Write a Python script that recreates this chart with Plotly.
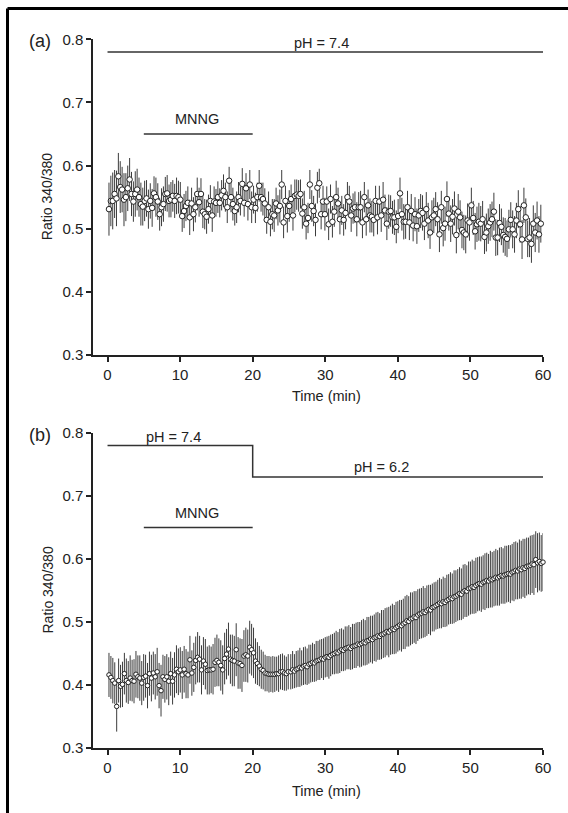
import numpy as np
import plotly.graph_objects as go

# ---- panel (a): pH 7.4 throughout, MNNG 5-20 min ----
a_ratio = [
    0.531, 0.544, 0.544, 0.555, 0.548, 0.583, 0.566, 0.562, 0.546, 0.550,
    0.564, 0.578, 0.555, 0.543, 0.555, 0.562, 0.550, 0.539, 0.535, 0.544,
    0.548, 0.531, 0.544, 0.533, 0.556, 0.550, 0.543, 0.523, 0.534, 0.539,
    0.555, 0.556, 0.544, 0.546, 0.552, 0.544, 0.552, 0.550, 0.546, 0.520,
    0.528, 0.536, 0.541, 0.518, 0.540, 0.523, 0.534, 0.555, 0.542, 0.555,
    0.527, 0.523, 0.519, 0.531, 0.544, 0.521, 0.543, 0.541, 0.550, 0.541,
    0.553, 0.560, 0.550, 0.534, 0.576, 0.550, 0.539, 0.528, 0.534, 0.550,
    0.544, 0.571, 0.541, 0.564, 0.539, 0.570, 0.534, 0.546, 0.533, 0.550,
    0.568, 0.550, 0.547, 0.540, 0.514, 0.534, 0.511, 0.523, 0.521,
    0.540, 0.529, 0.536, 0.570, 0.510, 0.544, 0.520, 0.536, 0.547, 0.521,
    0.552, 0.554, 0.552, 0.555, 0.524, 0.534, 0.508, 0.517, 0.570, 0.536,
    0.528, 0.514, 0.565, 0.572, 0.523, 0.543, 0.523, 0.543, 0.507, 0.547,
    0.511, 0.527, 0.550, 0.540, 0.515, 0.529, 0.514, 0.525, 0.550, 0.543,
    0.521, 0.532, 0.534, 0.515, 0.534, 0.534, 0.510, 0.550, 0.515, 0.537,
    0.521, 0.519, 0.514, 0.544, 0.518, 0.543, 0.521, 0.546, 0.529, 0.508,
    0.527, 0.528, 0.518, 0.518, 0.503, 0.520, 0.556, 0.523, 0.511, 0.511,
    0.534, 0.510, 0.528, 0.505, 0.523, 0.504, 0.521, 0.528, 0.525, 0.508,
    0.531, 0.513, 0.494, 0.518, 0.521, 0.531,
    0.515, 0.491, 0.534, 0.501, 0.508, 0.547, 0.524, 0.508, 0.519, 0.532,
    0.490, 0.527, 0.518, 0.498, 0.494, 0.491, 0.513, 0.510, 0.537, 0.517,
    0.496, 0.507, 0.511, 0.508, 0.515, 0.487, 0.494, 0.504, 0.510, 0.515,
    0.527, 0.486, 0.486, 0.509, 0.503, 0.490, 0.487, 0.484, 0.499, 0.514,
    0.499, 0.491, 0.513, 0.531, 0.507, 0.483, 0.537, 0.518, 0.484, 0.486,
    0.476, 0.508, 0.494, 0.513, 0.491, 0.508,
]
a_err = [
    0.042, 0.040, 0.045, 0.038, 0.044, 0.037, 0.041, 0.036, 0.042, 0.038,
    0.036, 0.034, 0.035, 0.032, 0.036, 0.033, 0.031, 0.034, 0.030, 0.032,
    0.029, 0.031, 0.028, 0.030, 0.027, 0.031, 0.029, 0.026, 0.030, 0.028,
    0.027, 0.029, 0.026, 0.028, 0.025, 0.027, 0.029, 0.026, 0.028, 0.025,
    0.027, 0.024, 0.026, 0.028, 0.025, 0.027, 0.024, 0.026, 0.023, 0.025,
    0.026, 0.024, 0.027, 0.023, 0.025, 0.026, 0.024, 0.022, 0.025, 0.023,
    0.024, 0.026, 0.023, 0.025, 0.022, 0.024, 0.026, 0.023, 0.025, 0.024,
    0.023, 0.025, 0.022, 0.024, 0.026, 0.023, 0.025, 0.022, 0.024, 0.023,
    0.025, 0.023, 0.026, 0.024, 0.022, 0.025, 0.023, 0.024, 0.026,
    0.025, 0.024, 0.026, 0.023, 0.025, 0.024, 0.026, 0.025, 0.023, 0.024,
    0.026, 0.024, 0.025, 0.023, 0.024, 0.026, 0.025, 0.024, 0.023, 0.025,
    0.024, 0.026, 0.025, 0.023, 0.024, 0.025, 0.026, 0.024, 0.025, 0.023,
    0.025, 0.024, 0.026, 0.025, 0.024, 0.023, 0.025, 0.026, 0.024, 0.025,
    0.026, 0.024, 0.025, 0.027, 0.024, 0.026, 0.025, 0.024, 0.026, 0.025,
    0.027, 0.025, 0.026, 0.024, 0.027, 0.025, 0.026, 0.028, 0.025, 0.026,
    0.027, 0.025, 0.026, 0.028, 0.026, 0.027, 0.025, 0.026, 0.028, 0.027,
    0.026, 0.028, 0.027, 0.025, 0.027, 0.028, 0.026, 0.027, 0.028, 0.026,
    0.027, 0.028, 0.026, 0.027, 0.028, 0.027,
    0.027, 0.028, 0.026, 0.029, 0.027, 0.028, 0.027, 0.029, 0.028, 0.027,
    0.029, 0.028, 0.027, 0.029, 0.028, 0.030, 0.027, 0.029, 0.028, 0.027,
    0.029, 0.028, 0.030, 0.028, 0.029, 0.027, 0.030, 0.028, 0.029, 0.028,
    0.030, 0.029, 0.028, 0.030, 0.029, 0.028, 0.030, 0.029, 0.031, 0.028,
    0.030, 0.029, 0.028, 0.030, 0.029, 0.031, 0.028, 0.030, 0.029, 0.031,
    0.030, 0.029, 0.031, 0.030, 0.029, 0.030,
]
a_start, a_end = 0.2, 59.7

# ---- panel (b): pH 7.4 -> 6.2 at 20 min, MNNG 5-20 min ----
b_ratio_early = [
    0.416, 0.412, 0.407, 0.403, 0.366, 0.407, 0.398, 0.401, 0.418, 0.407,
    0.404, 0.411, 0.407, 0.406, 0.417, 0.413, 0.411, 0.403, 0.412, 0.414,
    0.399, 0.418, 0.411, 0.419, 0.413, 0.421, 0.399, 0.391, 0.413, 0.409,
    0.413, 0.406, 0.418, 0.406, 0.416, 0.425, 0.421, 0.424, 0.416, 0.425,
    0.418, 0.416, 0.440, 0.419, 0.428, 0.439, 0.444, 0.441, 0.424, 0.438,
    0.433, 0.423, 0.424, 0.424, 0.425, 0.436, 0.439, 0.436, 0.431, 0.424,
    0.442, 0.449, 0.457, 0.441, 0.439, 0.438, 0.456, 0.435, 0.434, 0.431,
    0.446, 0.448, 0.446, 0.460, 0.456, 0.451, 0.438, 0.434, 0.430, 0.425,
    0.423, 0.419, 0.418, 0.417, 0.417, 0.417, 0.417, 0.418, 0.418, 0.421,
    0.421, 0.419, 0.418, 0.421,
]
b_err_early = [
    0.035, 0.034, 0.036, 0.033, 0.040, 0.035, 0.034, 0.036, 0.033, 0.035,
    0.034, 0.036, 0.033, 0.035, 0.037, 0.034, 0.036, 0.035, 0.037, 0.034,
    0.036, 0.035, 0.037, 0.034, 0.036, 0.038, 0.036, 0.041, 0.035, 0.037,
    0.036, 0.038, 0.035, 0.037, 0.036, 0.038, 0.037, 0.036, 0.038, 0.037,
    0.039, 0.037, 0.038, 0.036, 0.039, 0.038, 0.040, 0.037, 0.039, 0.038,
    0.040, 0.038, 0.039, 0.037, 0.040, 0.039, 0.041, 0.038, 0.040, 0.039,
    0.041, 0.040, 0.042, 0.039, 0.041, 0.040, 0.042, 0.041, 0.040, 0.042,
    0.041, 0.043, 0.042, 0.042, 0.041, 0.040, 0.036, 0.034, 0.032, 0.031,
    0.030, 0.029, 0.028, 0.029, 0.028, 0.029, 0.028, 0.027, 0.029, 0.028,
    0.029, 0.028, 0.027, 0.028,
]
b_ratio_late = [
    0.421, 0.424, 0.422, 0.425, 0.426, 0.428, 0.427, 0.430,
    0.431, 0.429, 0.433, 0.434, 0.436, 0.435, 0.438, 0.439,
    0.440, 0.442, 0.441, 0.444, 0.445, 0.444, 0.447, 0.449,
    0.450, 0.452, 0.451, 0.454, 0.456, 0.455, 0.458, 0.459,
    0.460, 0.458, 0.461, 0.462, 0.463, 0.465, 0.464, 0.466,
    0.468, 0.467, 0.470, 0.471, 0.473, 0.472, 0.475, 0.476,
    0.478, 0.477, 0.480, 0.481, 0.483, 0.485, 0.484, 0.487,
    0.489, 0.488, 0.491, 0.493, 0.495, 0.494, 0.497, 0.499,
    0.502, 0.501, 0.505, 0.506, 0.508, 0.507, 0.511, 0.513,
    0.514, 0.516, 0.515, 0.518, 0.520, 0.519, 0.523, 0.524,
    0.526, 0.528, 0.530, 0.529, 0.532, 0.531, 0.534, 0.536,
    0.538, 0.537, 0.540, 0.541, 0.543, 0.545, 0.544, 0.548,
    0.550, 0.549, 0.553, 0.554, 0.556, 0.555, 0.558, 0.560,
    0.561, 0.560, 0.563, 0.564, 0.566, 0.565, 0.568, 0.567,
    0.569, 0.571, 0.570, 0.572, 0.574, 0.573, 0.575, 0.576,
    0.577, 0.576, 0.579, 0.580, 0.582, 0.581, 0.584, 0.583,
    0.586, 0.585, 0.588, 0.589, 0.590, 0.592, 0.591, 0.599,
    0.594, 0.596, 0.593, 0.595,
]
b_err_late = [
    0.028, 0.030, 0.027, 0.029, 0.029, 0.031, 0.028, 0.030,
    0.030, 0.029, 0.031, 0.030, 0.031, 0.030, 0.032, 0.031,
    0.032, 0.031, 0.033, 0.032, 0.032, 0.034, 0.033, 0.032,
    0.033, 0.034, 0.033, 0.035, 0.034, 0.033, 0.035, 0.034,
    0.035, 0.034, 0.036, 0.035, 0.036, 0.035, 0.036, 0.037,
    0.037, 0.036, 0.038, 0.037, 0.037, 0.038, 0.037, 0.039,
    0.038, 0.037, 0.039, 0.038, 0.039, 0.038, 0.040, 0.039,
    0.040, 0.039, 0.041, 0.040, 0.040, 0.041, 0.040, 0.042,
    0.041, 0.040, 0.042, 0.041, 0.041, 0.042, 0.041, 0.040,
    0.040, 0.041, 0.039, 0.040, 0.039, 0.040, 0.038, 0.039,
    0.038, 0.039, 0.040, 0.039, 0.040, 0.039, 0.041, 0.040,
    0.041, 0.040, 0.042, 0.041, 0.041, 0.042, 0.041, 0.043,
    0.042, 0.041, 0.043, 0.042, 0.043, 0.042, 0.044, 0.043,
    0.043, 0.044, 0.043, 0.045, 0.044, 0.043, 0.045, 0.044,
    0.044, 0.045, 0.044, 0.046, 0.045, 0.044, 0.046, 0.045,
    0.045, 0.046, 0.045, 0.047, 0.046, 0.045, 0.047, 0.046,
    0.046, 0.047, 0.046, 0.045, 0.047, 0.046, 0.048, 0.045,
    0.047, 0.046, 0.045, 0.046,
]
b_early_start, b_early_end = 0.2, 24.9
b_late_start, b_late_end = 25.25, 60.0

# condition bars
ph_a_x, ph_a_y = [0, 60], [0.78, 0.78]
ph_b_x, ph_b_y = [0, 20, 20, 60], [0.78, 0.78, 0.73, 0.73]
mnng_x, mnng_y = [5, 20], [0.65, 0.65]

assert len(a_ratio) == len(a_err)
assert len(b_ratio_early) == len(b_err_early)
assert len(b_ratio_late) == len(b_err_late)

a_time = np.linspace(a_start, a_end, len(a_ratio))
b_time = np.concatenate([
    np.linspace(b_early_start, b_early_end, len(b_ratio_early)),
    np.linspace(b_late_start, b_late_end, len(b_ratio_late)),
])
b_ratio = b_ratio_early + b_ratio_late
b_err = b_err_early + b_err_late

W, H = 568, 813
FONT = "Liberation Sans, Arial, sans-serif"
INK = "#222"


def py(px):
    return 1 - px / H


def pxx(px):
    return px / W


fig = go.Figure()

for xa, ya, t, r, e, msize in [("x", "y", a_time, a_ratio, a_err, 5.5),
                               ("x2", "y2", b_time, b_ratio, b_err, 4.5)]:
    fig.add_trace(go.Scatter(
        x=t, y=r, xaxis=xa, yaxis=ya, mode="markers",
        error_y=dict(type="data", array=e, visible=True, color="#3c3c3c",
                     thickness=1, width=0),
        marker=dict(symbol="circle", size=msize, color="white",
                    line=dict(color=INK, width=1)),
        cliponaxis=False, showlegend=False, hoverinfo="skip",
    ))

for xa, ya, lx, ly in [("x", "y", ph_a_x, ph_a_y), ("x", "y", mnng_x, mnng_y),
                       ("x2", "y2", ph_b_x, ph_b_y), ("x2", "y2", mnng_x, mnng_y)]:
    fig.add_trace(go.Scatter(
        x=lx, y=ly, xaxis=xa, yaxis=ya, mode="lines",
        line=dict(color="#333", width=1.5),
        cliponaxis=False, showlegend=False, hoverinfo="skip",
    ))

axis_common = dict(
    showline=True, linecolor=INK, linewidth=1.5, ticks="outside", ticklen=5,
    tickwidth=1.5, tickcolor=INK, showgrid=False, zeroline=False, automargin=False,
    tickfont=dict(family=FONT, size=15, color=INK),
)
xdom = [pxx(93), pxx(543)]
xticks = [0, 10, 20, 30, 40, 50, 60]
yticks = [0.3, 0.4, 0.5, 0.6, 0.7, 0.8]

fig.update_layout(
    width=W, height=H, autosize=False, margin=dict(l=0, r=0, t=0, b=0, pad=0),
    paper_bgcolor="white", plot_bgcolor="white", showlegend=False,
    font=dict(family=FONT, color=INK),
    xaxis=dict(domain=xdom, range=[-2, 60], anchor="y", tickvals=xticks, **axis_common),
    yaxis=dict(domain=[py(355), py(39.3)], range=[0.3, 0.8], anchor="x",
               tickvals=yticks, tickformat=".1f", **axis_common),
    xaxis2=dict(domain=xdom, range=[-2, 60], anchor="y2", tickvals=xticks, **axis_common),
    yaxis2=dict(domain=[py(748), py(433)], range=[0.3, 0.8], anchor="x2",
                tickvals=yticks, tickformat=".1f", **axis_common),
)

ann = []
# condition labels
for xr, yr, x, y, txt in [("x", "y", 29.5, 0.794, "pH = 7.4"),
                          ("x", "y", 12.3, 0.673, "MNNG"),
                          ("x2", "y2", 9.1, 0.794, "pH = 7.4"),
                          ("x2", "y2", 12.3, 0.673, "MNNG"),
                          ("x2", "y2", 37.8, 0.746, "pH = 6.2")]:
    ann.append(dict(xref=xr, yref=yr, x=x, y=y, text=txt, showarrow=False,
                    xanchor="center", yanchor="middle",
                    font=dict(family=FONT, size=14.5, color=INK)))
# panel letters, axis titles
for top, bottom, letter, xt_y in [(39.3, 355, "(a)", 396), (433, 748, "(b)", 791)]:
    ann.append(dict(xref="paper", yref="paper", x=pxx(40), y=py(top + 2),
                    text=letter, showarrow=False, xanchor="center", yanchor="middle",
                    font=dict(family=FONT, size=18, color=INK)))
    ann.append(dict(xref="paper", yref="paper", x=pxx(47), y=py((top + bottom) / 2),
                    text="Ratio 340/380", textangle=-90, showarrow=False,
                    xanchor="center", yanchor="middle",
                    font=dict(family=FONT, size=14, color=INK)))
    ann.append(dict(xref="paper", yref="paper", x=pxx(326), y=py(xt_y),
                    text="Time (min)", showarrow=False, xanchor="center", yanchor="middle",
                    font=dict(family=FONT, size=14.5, color=INK)))
fig.update_layout(annotations=ann)

# figure frame (top and left edges)
fig.update_layout(shapes=[
    dict(type="line", xref="paper", yref="paper", x0=pxx(7.5), x1=1.0,
         y0=py(8.5), y1=py(8.5), line=dict(color="black", width=3)),
    dict(type="line", xref="paper", yref="paper", x0=pxx(7.5), x1=pxx(7.5),
         y0=0, y1=py(8.5), line=dict(color="black", width=3)),
])

# the page body has a default 8px margin; drop it so the figure fills the window
fig.write_html("out.html",
               config={"displayModeBar": False},
               post_script="document.body.style.margin='0px';document.body.style.overflow='hidden';")
